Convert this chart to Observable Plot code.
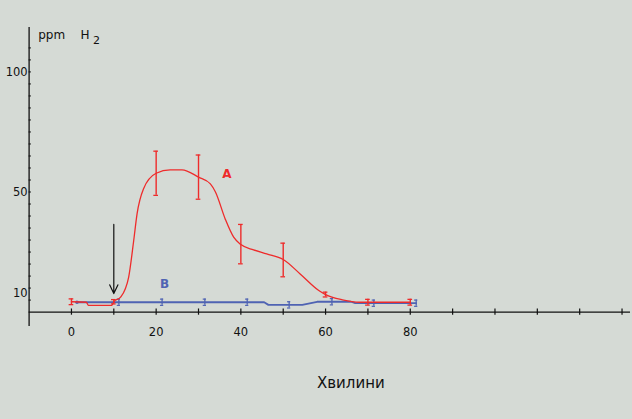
<!DOCTYPE html>
<html>
<head>
<meta charset="utf-8">
<script src="https://cdn.jsdelivr.net/npm/d3@7"></script>
<script src="https://cdn.jsdelivr.net/npm/@observablehq/plot@0.6"></script>
<style>
  html, body { margin: 0; padding: 0; background: #d5dad5; }
  #chart svg { display: block; }
</style>
</head>
<body>
<div id="chart"></div>
<script>
// ---- Data ----
// Series A (red): measured points with error bars
const aX = [0, 10, 20, 30, 40, 50, 60, 70, 80];
const aY = [4.3, 4.3, 57.8, 56.2, 28.3, 21.7, 7.3, 4.1, 4.1];
const aErr = [1.2, 0.9, 9.2, 9.2, 8.2, 7.0, 1.0, 1.2, 1.2];
// Series A smooth curve as traced in the picture
const aCurveX = [0, 3.5, 4, 9.5, 10, 11.6, 13.5, 14.7, 15.5, 17, 20, 23.3, 26.1, 30, 32.8, 34, 36.3, 38.3, 40, 43, 46.1, 50, 54, 58.4, 60, 64, 68, 80];
const aCurveY = [4.3, 4.1, 2.8, 2.8, 4.3, 6.2, 14.5, 29.8, 41, 51.3, 57.8, 59.2, 59.2, 56.2, 53.4, 50, 38.8, 31.2, 28.1, 25.9, 24.2, 21.9, 15.9, 9, 7.3, 5.1, 4.1, 4.1];
// Series B (blue): points with error bars
const bX = [1.3, 11.2, 21.4, 31.5, 41.5, 51.4, 61.5, 71.4, 81.4];
const bY = [4.1, 4.1, 4.1, 4.1, 4.1, 3.0, 4.3, 3.7, 3.7];
const bErr = [1.3, 1.3, 1.3, 1.3, 1.3, 1.3, 1.3, 1.3, 1.3];
// Series B line as traced
const bLineX = [1.3, 45.5, 46.5, 54.5, 58, 66, 67, 81.4];
const bLineY = [4.1, 4.1, 3.0, 3.0, 4.3, 4.3, 3.7, 3.7];
// Axes
const xTickValues = [0, 10, 20, 30, 40, 50, 60, 70, 80, 90, 100, 110, 120, 130];
const xTickLabels = [0, 20, 40, 60, 80];
const yTickValues = [5, 10, 15, 20, 25, 30, 35, 40, 45, 50, 55, 60, 65, 70, 75, 80, 85, 90, 95, 100, 105, 110];
const yTickLabels = [50, 100];
const yTickLabelsLow = [10];
// Arrow (injection moment)
const arrowX = [10];
const arrowFrom = [36.5];
const arrowTo = [7.7];
// Labels
const seriesLabels = ["A", "B"];
const seriesLabelX = [36.7, 22.0];
const seriesLabelY = [57.4, 11.8];

const RED = "#ee2b2b";
const BLUE = "#4f63b3";
const FONT = "DejaVu Sans";

const A = aX.map((x, i) => ({x, y: aY[i], e: aErr[i]}));
const B = bX.map((x, i) => ({x, y: bY[i], e: bErr[i]}));
const Acurve = aCurveX.map((x, i) => ({x, y: aCurveY[i]}));
const Bline = bLineX.map((x, i) => ({x, y: bLineY[i]}));
const labels = seriesLabels.map((t, i) => ({t, x: seriesLabelX[i], y: seriesLabelY[i], c: i === 0 ? RED : BLUE}));

const capW = 0.55;

const chart = Plot.plot({
  width: 632,
  height: 419,
  marginLeft: 28.6,
  marginRight: 2,
  marginTop: 27,
  marginBottom: 93,
  style: {background: "#d5dad5", fontFamily: FONT, color: "#111"},
  x: {domain: [-10, 132]},
  y: {domain: [-6, 118.5]},
  marks: [
    // axis lines
    Plot.ruleY([0], {stroke: "#111", strokeWidth: 1.3}),
    Plot.ruleX([-10], {stroke: "#111", strokeWidth: 1.3}),
    // x ticks (crossing)
    Plot.ruleX(xTickValues, {x: d => d, y1: -1.3, y2: 1.3, stroke: "#111", strokeWidth: 1.2}),
    // y minor ticks (inside)
    Plot.ruleY(yTickValues, {y: d => d, x1: -10, x2: -9.45, stroke: "#111", strokeWidth: 1}),
    Plot.axisX({ticks: xTickLabels, tickSize: 0, tickPadding: 1, fontSize: 11.5, label: null, fill: "#111"}),
    Plot.axisY({ticks: yTickLabels, tickSize: 0, tickPadding: 1.5, fontSize: 11.5, label: null, fill: "#111"}),
    Plot.axisY({ticks: yTickLabelsLow, tickSize: 0, tickPadding: 1.5, fontSize: 11.5, label: null, fill: "#111", dy: 5}),
    // series B
    Plot.line(Bline, {x: "x", y: "y", stroke: BLUE, strokeWidth: 1.8}),
    Plot.ruleX(B.slice(1), {x: "x", y1: d => d.y - d.e, y2: d => d.y + d.e, stroke: BLUE, strokeWidth: 1.3}),
    Plot.ruleY(B.slice(1), {y: d => d.y - d.e, x1: d => d.x - capW * 0.7, x2: d => d.x + capW * 0.7, stroke: BLUE, strokeWidth: 1.2}),
    Plot.ruleY(B.slice(1), {y: d => d.y + d.e, x1: d => d.x - capW * 0.7, x2: d => d.x + capW * 0.7, stroke: BLUE, strokeWidth: 1.2}),
    Plot.dot(B.slice(0, 1), {x: "x", y: "y", r: 1.8, fill: BLUE, stroke: "none"}),
    // series A
    Plot.line(Acurve, {x: "x", y: "y", stroke: RED, strokeWidth: 1.3, curve: "monotone-x"}),
    Plot.ruleX(A, {x: "x", y1: d => d.y - d.e, y2: d => d.y + d.e, stroke: RED, strokeWidth: 1.4}),
    Plot.ruleY(A, {y: d => d.y - d.e, x1: d => d.x - capW, x2: d => d.x + capW, stroke: RED, strokeWidth: 1.3}),
    Plot.ruleY(A, {y: d => d.y + d.e, x1: d => d.x - capW, x2: d => d.x + capW, stroke: RED, strokeWidth: 1.3}),
    // arrow
    Plot.arrow(arrowX, {x1: d => d, x2: d => d, y1: (d, i) => arrowFrom[i], y2: (d, i) => arrowTo[i], stroke: "#111", strokeWidth: 1.2, headAngle: 50, headLength: 12}),
    // series labels
    Plot.text(labels, {x: "x", y: "y", text: "t", fill: "c", fontWeight: "bold", fontSize: 12}),
    // y unit
    Plot.text(["ppm"], {frameAnchor: "top-left", dx: 9.1, dy: 11.3, textAnchor: "start", lineAnchor: "bottom", fontSize: 12, fill: "#111"}),
    Plot.text(["H"], {frameAnchor: "top-left", dx: 51.4, dy: 11.3, textAnchor: "start", lineAnchor: "bottom", fontSize: 12, fill: "#111"}),
    Plot.text(["2"], {frameAnchor: "top-left", dx: 64, dy: 16.3, textAnchor: "start", lineAnchor: "bottom", fontSize: 11, fill: "#111"}),
    // x title
    Plot.text(["Хвилини"], {frameAnchor: "bottom", dx: 21, dy: 56.7, lineAnchor: "middle", fontSize: 15, fill: "#111"})
  ]
});
document.getElementById("chart").append(chart);
</script>
</body>
</html>
